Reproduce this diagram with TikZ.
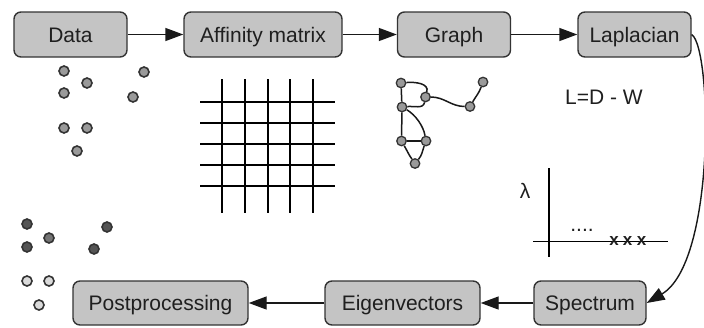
\documentclass[tikz,border=0pt]{standalone}
\usepackage{fontspec}
\setmainfont{Liberation Sans}
\usetikzlibrary{arrows.meta}
\definecolor{boxfill}{HTML}{C4C4C4}
\definecolor{boxline}{HTML}{333333}
\definecolor{ptfill}{HTML}{9A9A9A}
\definecolor{ptdark}{HTML}{555555}
\definecolor{ptmid}{HTML}{747474}
\definecolor{ptlight}{HTML}{DADADA}
\tikzset{
  stepbox/.style={draw=boxline, fill=boxfill, rounded corners=7pt, line width=1.4pt,
    minimum height=45pt, inner sep=0pt, text height=15pt, text depth=0pt,
    font=\fontsize{21}{24}\selectfont, text=black!88},
  flow/.style={line width=1.4pt, draw=black!90, -{Triangle[length=18pt,width=13pt]}},
  dot/.style={circle, draw=boxline, line width=1.6pt, minimum size=10pt, inner sep=0pt},
  gnode/.style={circle, draw=boxline, fill=ptfill, line width=1.3pt, minimum size=9.5pt, inner sep=0pt},
  gedge/.style={line width=1.5pt, draw=black!90},
  gridline/.style={line width=2.1pt, draw=black},
  plain/.style={font=\fontsize{21}{24}\selectfont, text=black!88, inner sep=0pt}
}
\begin{document}
\begin{tikzpicture}[x=1pt,y=-1pt]
\useasboundingbox (0,0) rectangle (704,327);

% pipeline stages
\node[stepbox, minimum width=113pt] (data) at (70.5,34.5) {Data};
\node[stepbox, minimum width=158pt] (aff) at (263,34.5) {Affinity matrix};
\node[stepbox, minimum width=113pt] (graph) at (454,34.5) {Graph};
\node[stepbox, minimum width=113pt] (lap) at (634.5,34.5) {Laplacian};
\node[stepbox, minimum width=112pt, minimum height=44pt] (spec) at (590,303) {Spectrum};
\node[stepbox, minimum width=155pt, minimum height=44pt] (eig) at (402.5,303) {Eigenvectors};
\node[stepbox, minimum width=175pt, minimum height=44pt] (post) at (160.5,303) {Postprocessing};

\draw[flow] (data) -- (aff);
\draw[flow] (aff) -- (graph);
\draw[flow] (graph) -- (lap);
\draw[flow] (lap.east) .. controls (712,48) and (716,262) .. (spec.east);
\draw[flow] (spec) -- (eig);
\draw[flow] (eig) -- (post);

% raw data points
\foreach \n/\x/\y in {1/64/71, 2/87/83, 3/64/93, 4/144/72, 5/133/97, 6/64/128, 7/87/128, 8/77/151}
  \node[dot, fill=ptfill] (d\n) at (\x,\y) {};

% clustered points
\node[dot, fill=ptdark] (c1) at (27,224) {};
\node[dot, fill=ptmid] (c2) at (49,238) {};
\node[dot, fill=ptdark] (c3) at (27,247) {};
\node[dot, fill=ptdark] (c4) at (107,227) {};
\node[dot, fill=ptdark] (c5) at (94,249) {};
\node[dot, fill=ptlight] (c6) at (27,281) {};
\node[dot, fill=ptlight] (c7) at (49,281) {};
\node[dot, fill=ptlight] (c8) at (39,305) {};

% affinity matrix grid
\foreach \x in {222.3,245,267.7,290,313.3}
  \draw[gridline] (\x,79) -- (\x,213);
\foreach \y in {101.7,122.7,144,165,185.7}
  \draw[gridline] (200,\y) -- (335,\y);

% similarity graph
\node[gnode] (ga) at (401,83) {};
\node[gnode] (gb) at (425.5,97) {};
\node[gnode] (gc) at (402,107) {};
\node[gnode] (gd) at (483,82) {};
\node[gnode] (ge) at (470,106.5) {};
\node[gnode] (gf) at (401.5,141) {};
\node[gnode] (gg) at (426,141) {};
\node[gnode] (gh) at (415,163.5) {};
\draw[gedge] (ga) -- (gc);
\draw[gedge] (ga) to[out=5,in=75] (gb);
\draw[gedge] (gb) to[out=-100,in=5] (gc);
\draw[gedge] (gb) to[out=0,in=180] (ge);
\draw[gedge] (ge) to[out=60,in=-110] (gd);
\draw[gedge] (gc) -- (gf);
\draw[gedge] (gc) to[out=-30,in=100,looseness=0.8] (gg);
\draw[gedge] (gf) -- (gg);
\draw[gedge] (gf) to[out=-60,in=125] (gh);
\draw[gedge] (gg) to[out=-110,in=50] (gh);

% Laplacian formula
\node[plain] (lform) at (604,97) {L=D - W};

% eigenvalue spectrum sketch
\coordinate (ytop) at (549,168);
\coordinate (ybot) at (549,257);
\coordinate (xl) at (533,241.7);
\coordinate (xr) at (668,241.7);
\draw[line width=1.5pt] (ytop) -- (ybot);
\draw[line width=1.5pt] (xl) -- (xr);
\node[plain] (lam) at (525,191) {λ};
\node[plain, anchor=base] (ell) at (582,231) {....};
\foreach \n/\x in {1/614,2/627.5,3/641.5}
  \node[plain, font=\bfseries\fontsize{17}{20}\selectfont, anchor=base] (ev\n) at (\x,245.5) {x};
\end{tikzpicture}
\end{document}
